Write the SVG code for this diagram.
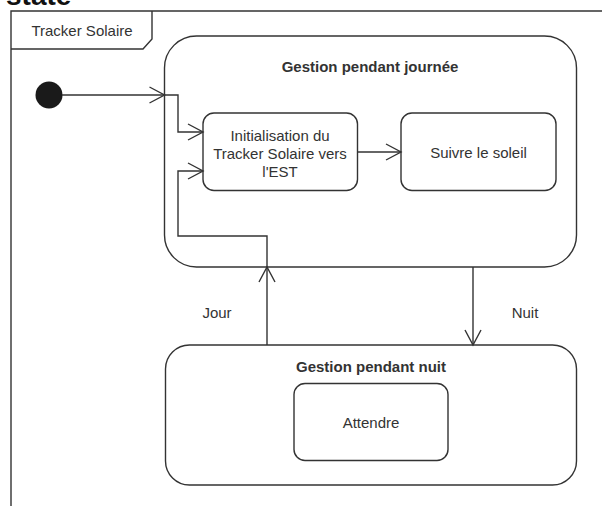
<svg xmlns="http://www.w3.org/2000/svg" width="602" height="506" viewBox="0 0 602 506">
<style>
.ln{fill:none;stroke:#333;stroke-width:1.4}
.box{fill:#fff;stroke:#333;stroke-width:1.4}
.t{font-family:"Liberation Sans",Arial,sans-serif;font-size:15px;fill:#333;text-anchor:middle}
.b{font-weight:bold}
</style>
<defs>
<marker id="open" markerUnits="userSpaceOnUse" markerWidth="20" markerHeight="20" refX="16" refY="9" orient="auto" overflow="visible">
<path d="M1,1 L16,9 L1,17" fill="none" stroke="#333" stroke-width="1.4"/>
</marker>
</defs>
<rect width="602" height="506" fill="#fff"/>
<text x="6" y="5" font-family="Liberation Sans,Arial,sans-serif" font-size="28" font-weight="bold" fill="#111">state</text>
<g id="frame">
<path class="ln" d="M11,506 L11,11 L602,11"/>
<path class="ln" d="M11,49 L143,49 L152,39 L152,11"/>
<text class="t" x="82" y="36">Tracker Solaire</text>
</g>
<g id="jour-state">
<rect class="box" x="164.5" y="36" width="412" height="231" rx="32" ry="32"/>
<text class="t b" x="370" y="72">Gestion pendant journée</text>
</g>
<g id="nuit-state">
<rect class="box" x="165.5" y="345" width="411" height="140" rx="24" ry="24"/>
<text class="t b" x="371" y="372">Gestion pendant nuit</text>
</g>
<g id="initial">
<circle cx="49" cy="95" r="13.5" fill="#1a1a1a"/>
</g>
<g id="init">
<rect class="box" x="203" y="113" width="154.5" height="77.5" rx="11" ry="11"/>
<text class="t" x="280" y="140.5">Initialisation du</text>
<text class="t" x="280" y="158.5">Tracker Solaire vers</text>
<text class="t" x="280" y="177">l'EST</text>
</g>
<g id="suivre">
<rect class="box" x="401" y="113" width="155" height="77.5" rx="11" ry="11"/>
<text class="t" x="478.5" y="158">Suivre le soleil</text>
</g>
<g id="attendre">
<rect class="box" x="294" y="383.5" width="154" height="77" rx="11" ry="11"/>
<text class="t" x="371" y="428">Attendre</text>
</g>
<g id="connectors">
<path class="ln" d="M62,95 L164.5,95" marker-end="url(#open)"/>
<path class="ln" d="M164.5,95 L178,95 L178,132 L203,132" marker-end="url(#open)"/>
<path class="ln" d="M357.5,152 L401,152" marker-end="url(#open)"/>
<path class="ln" d="M267,345 L267,267" marker-end="url(#open)"/>
<path class="ln" d="M267,267 L267,236 L178,236 L178,171 L203,171" marker-end="url(#open)"/>
<path class="ln" d="M473,267 L473,345" marker-end="url(#open)"/>
<text class="t" x="217" y="318">Jour</text>
<text class="t" x="525" y="318">Nuit</text>
</g>
</svg>
